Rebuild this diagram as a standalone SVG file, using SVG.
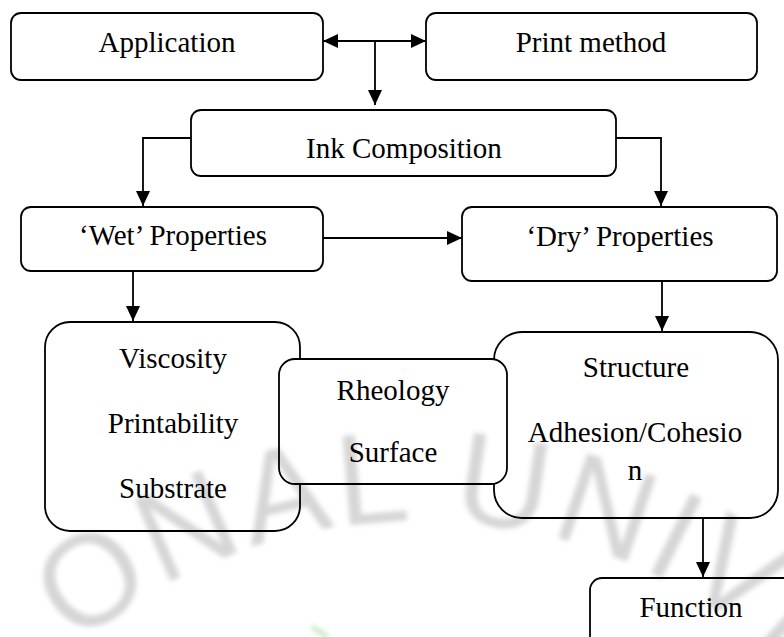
<svg xmlns="http://www.w3.org/2000/svg" width="784" height="637" viewBox="0 0 784 637">
<style>
.box{fill:#fff;stroke:#000;stroke-width:1.8}
.lbl{font-family:'Liberation Serif','DejaVu Serif',serif;font-size:29px;fill:#000;text-anchor:middle}
.con{fill:none;stroke:#000;stroke-width:1.8}
.wm{font-family:'Liberation Sans',Arial,sans-serif;font-size:130px;fill:#000;opacity:0.16;letter-spacing:4px}
</style>
<defs>
<marker id="ah" markerUnits="userSpaceOnUse" markerWidth="15" markerHeight="14" refX="15" refY="7" orient="auto">
<path d="M0,0 L15,7 L0,14 z" fill="#000"/>
</marker>
<marker id="ahs" markerUnits="userSpaceOnUse" markerWidth="15" markerHeight="14" refX="0" refY="7" orient="auto">
<path d="M15,0 L0,7 L15,14 z" fill="#000"/>
</marker>
<filter id="soft" x="-10%" y="-10%" width="120%" height="120%"><feGaussianBlur stdDeviation="2.5"/></filter>
<path id="arc" d="M -43,788 A 535,535 0 0 1 883,788"/>
</defs>
<rect width="784" height="637" fill="#fff"/>

<g id="application"><rect class="box" x="11" y="13" width="312" height="67" rx="10"/><text class="lbl" x="167" y="52">Application</text></g>
<g id="print-method"><rect class="box" x="426" y="13" width="331" height="67" rx="10"/><text class="lbl" x="591" y="52">Print method</text></g>
<g id="ink-composition"><rect class="box" x="191" y="110" width="425" height="66" rx="10"/><text class="lbl" x="404" y="158">Ink Composition</text></g>
<g id="wet-properties"><rect class="box" x="21" y="207" width="302" height="64" rx="10"/><text class="lbl" x="173" y="245">‘Wet’ Properties</text></g>
<g id="dry-properties"><rect class="box" x="462" y="207" width="315" height="74" rx="10"/><text class="lbl" x="620" y="246">‘Dry’ Properties</text></g>
<g id="wet-details"><rect class="box" x="45" y="322" width="255" height="209" rx="25"/>
<text class="lbl" x="173" y="368">Viscosity</text><text class="lbl" x="173" y="433">Printability</text><text class="lbl" x="173" y="498">Substrate</text></g>
<g id="dry-details"><rect class="box" x="494" y="332" width="284" height="186" rx="28"/>
<text class="lbl" x="636" y="377">Structure</text><text class="lbl" x="635" y="442">Adhesion/Cohesio</text><text class="lbl" x="635" y="480">n</text></g>
<g id="shared-details"><rect class="box" x="279" y="359" width="228" height="125" rx="16"/>
<text class="lbl" x="393" y="400">Rheology</text><text class="lbl" x="393" y="462">Surface</text></g>
<g id="function"><rect class="box" x="590" y="578" width="210" height="80" rx="12"/><text class="lbl" x="691" y="617">Function</text></g>

<g id="connectors">
<path class="con" d="M323,41 H426" marker-start="url(#ahs)" marker-end="url(#ah)"/>
<path class="con" d="M375,41 V105" marker-end="url(#ah)"/>
<path class="con" d="M191,138 H143 V206" marker-end="url(#ah)"/>
<path class="con" d="M616,138 H661 V206" marker-end="url(#ah)"/>
<path class="con" d="M323,238 H462" marker-end="url(#ah)"/>
<path class="con" d="M133,271 V321" marker-end="url(#ah)"/>
<path class="con" d="M662,281 V331" marker-end="url(#ah)"/>
<path class="con" d="M703,518 V577" marker-end="url(#ah)"/>
</g>

<g id="watermark" filter="url(#soft)">
<text class="wm"><textPath href="#arc" startOffset="185">ONAL UNIVE</textPath></text>
<path d="M312,627 L328,637" stroke="#8fcf88" stroke-width="5" opacity="0.5" fill="none"/>
</g>
</svg>
